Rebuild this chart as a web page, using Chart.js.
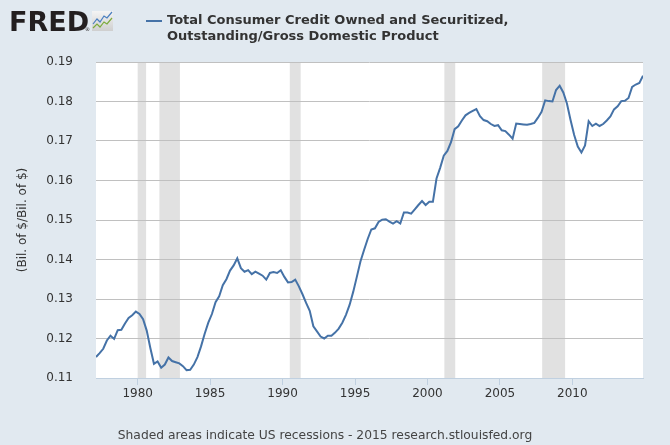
<!DOCTYPE html>
<html lang="en">
<head>
<meta charset="UTF-8" />
<title>Total Consumer Credit / GDP</title>
<style>
  html, body { margin: 0; padding: 0; background: #e1e9f0; }
  #chart { display: block; }
</style>
</head>
<body>
<canvas id="chart" width="670" height="445"></canvas>
<script src="https://cdn.jsdelivr.net/npm/chart.js"></script>
<script>
// Quarterly series, first quarter 1977 Q1
const firstYear = 1977;
const ratio = [
  0.1153, 0.1163, 0.1174, 0.1195, 0.1207, 0.1199, 0.1221, 0.1222, 0.1238, 0.1252,
  0.1259, 0.1268, 0.1262, 0.1249, 0.1220, 0.1176, 0.1136, 0.1142, 0.1126, 0.1134,
  0.1152, 0.1143, 0.1140, 0.1137, 0.1130, 0.1120, 0.1121, 0.1134, 0.1153, 0.1180,
  0.1212, 0.1240, 0.1262, 0.1292, 0.1307, 0.1335, 0.1350, 0.1372, 0.1385, 0.1403,
  0.1378, 0.1369, 0.1373, 0.1363, 0.1369, 0.1364, 0.1359, 0.1349, 0.1366, 0.1368,
  0.1366, 0.1373, 0.1356, 0.1342, 0.1343, 0.1349, 0.1332, 0.1312, 0.1290, 0.1270,
  0.1231, 0.1218, 0.1205, 0.1200, 0.1207, 0.1207, 0.1215, 0.1225, 0.1240, 0.1260,
  0.1285, 0.1318, 0.1356, 0.1395, 0.1424, 0.1452, 0.1476, 0.1479, 0.1495, 0.1501,
  0.1502, 0.1496, 0.1491, 0.1497, 0.1491, 0.1519, 0.1519, 0.1516, 0.1527, 0.1538,
  0.1548, 0.1538, 0.1546, 0.1546, 0.1605, 0.1632, 0.1663, 0.1675, 0.1697, 0.1730,
  0.1737, 0.1752, 0.1765, 0.1771, 0.1776, 0.1781, 0.1763, 0.1753, 0.1750, 0.1743,
  0.1738, 0.1740, 0.1727, 0.1725, 0.1716, 0.1706, 0.1744, 0.1743, 0.1742, 0.1741,
  0.1743, 0.1746, 0.1759, 0.1774, 0.1803, 0.1801, 0.1800, 0.1829, 0.1840, 0.1823,
  0.1795, 0.1753, 0.1715, 0.1686, 0.1671, 0.1689, 0.1750, 0.1738, 0.1744, 0.1738,
  0.1743, 0.1752, 0.1762, 0.1780, 0.1788, 0.1801, 0.1802, 0.1809, 0.1837, 0.1843,
  0.1847, 0.1865
];

// Quarter labels, e.g. "1977 Q1"
const quarters = ratio.map((_, i) => (firstYear + Math.floor(i / 4)) + ' Q' + (i % 4 + 1));

// NBER recessions (start month, end month)
const recessions = [
  ['1980-01', '1980-07'],
  ['1981-07', '1982-11'],
  ['1990-07', '1991-03'],
  ['2001-03', '2001-11'],
  ['2007-12', '2009-06']
];

const yTicks = [0.11, 0.12, 0.13, 0.14, 0.15, 0.16, 0.17, 0.18, 0.19];
const xTicks = [1980, 1985, 1990, 1995, 2000, 2005, 2010];

const legendLines = ['Total Consumer Credit Owned and Securitized,', 'Outstanding/Gross Domestic Product'];
const yTitle = '(Bil. of $/Bil. of $)';
const footer = 'Shaded areas indicate US recessions - 2015 research.stlouisfed.org';

// quarter label -> decimal year (middle of the quarter)
function quarterToYear(q) {
  const parts = q.split(' Q');
  return +parts[0] + (+parts[1] - 0.5) / 4;
}
function monthToYear(m, end) {
  const p = m.split('-');
  return +p[0] + (+p[1] - (end ? 0 : 1)) / 12;
}

const points = quarters.map((q, i) => ({ x: quarterToYear(q), y: ratio[i] }));

// background + recession bands
const bandsPlugin = {
  id: 'bands',
  beforeDraw(chart) {
    const c = chart.ctx, a = chart.chartArea, xs = chart.scales.x;
    c.save();
    c.fillStyle = '#e1e9f0';
    c.fillRect(0, 0, chart.width, chart.height);
    c.fillStyle = '#ffffff';
    c.fillRect(a.left, a.top, a.right - a.left, a.bottom - a.top);
    c.fillStyle = '#e1e1e1';
    recessions.forEach(r => {
      const x0 = Math.max(a.left, xs.getPixelForValue(monthToYear(r[0], false)));
      const x1 = Math.min(a.right, xs.getPixelForValue(monthToYear(r[1], true)));
      c.fillRect(x0, a.top, x1 - x0, a.bottom - a.top);
    });
    c.restore();
  }
};

// logo, legend, axis title, footer
const textPlugin = {
  id: 'texts',
  afterDraw(chart) {
    const c = chart.ctx, a = chart.chartArea;
    c.save();
    // FRED logo
    c.fillStyle = '#231f20';
    c.font = 'bold 27px "DejaVu Sans"';
    c.textBaseline = 'alphabetic';
    c.textAlign = 'left';
    c.fillText('FRED', 9, 31);
    c.font = '5px "DejaVu Sans"';
    c.fillText('®', 85, 31);
    const g = c.createLinearGradient(0, 11, 0, 31);
    g.addColorStop(0, '#f4f4f4');
    g.addColorStop(1, '#cfcfcf');
    c.fillStyle = g;
    c.fillRect(92, 11, 21, 20);
    c.lineWidth = 1.2;
    c.strokeStyle = '#4a7fc0';
    c.beginPath();
    c.moveTo(93, 24); c.lineTo(97, 19); c.lineTo(100, 22); c.lineTo(104, 16); c.lineTo(107, 18); c.lineTo(112, 12);
    c.stroke();
    c.strokeStyle = '#7cab3c';
    c.beginPath();
    c.moveTo(93, 28); c.lineTo(97, 24); c.lineTo(100, 27); c.lineTo(104, 22); c.lineTo(107, 24); c.lineTo(112, 18);
    c.stroke();

    // legend
    c.strokeStyle = '#4572a7';
    c.lineWidth = 2;
    c.beginPath();
    c.moveTo(146, 21); c.lineTo(162, 21);
    c.stroke();
    c.fillStyle = '#333333';
    c.font = 'bold 13px "DejaVu Sans"';
    c.textBaseline = 'middle';
    c.fillText(legendLines[0], 167, 21);
    c.fillText(legendLines[1], 167, 37);

    // y axis title
    c.font = '12px "DejaVu Sans"';
    c.textAlign = 'center';
    c.save();
    c.translate(23, (a.top + a.bottom) / 2);
    c.rotate(-Math.PI / 2);
    c.fillText(yTitle, 0, 0);
    c.restore();

    // footer
    c.fillStyle = '#444444';
    c.font = '12.3px "DejaVu Sans"';
    c.fillText(footer, 325, 436);
    c.restore();
  }
};

new Chart(document.getElementById('chart'), {
  type: 'line',
  data: {
    datasets: [{
      data: points,
      borderColor: '#4572a7',
      borderWidth: 2,
      pointRadius: 0,
      tension: 0,
      fill: false
    }]
  },
  options: {
    responsive: false,
    animation: false,
    devicePixelRatio: 1,
    layout: { padding: { top: 62, right: 27, left: 0, bottom: 0 } },
    plugins: { legend: { display: false }, tooltip: { enabled: false } },
    scales: {
      x: {
        type: 'linear',
        min: points[0].x,
        max: points[points.length - 1].x,
        afterFit: s => { s.height = 67; },
        afterBuildTicks: s => { s.ticks = xTicks.map(v => ({ value: v })); },
        grid: { drawOnChartArea: false, drawTicks: true, tickLength: 7, color: '#c0d0e0' },
        border: { color: '#c0d0e0', width: 1 },
        ticks: {
          autoSkip: false, maxRotation: 0, padding: 2, color: '#333333',
          font: { family: 'DejaVu Sans', size: 12 },
          callback: v => String(v)
        }
      },
      y: {
        min: yTicks[0],
        max: yTicks[yTicks.length - 1],
        afterFit: s => { s.width = 96; },
        afterBuildTicks: s => { s.ticks = yTicks.map(v => ({ value: v })); },
        grid: { color: '#c0c0c0', drawTicks: false, lineWidth: 1 },
        border: { display: false },
        ticks: {
          padding: 23, color: '#333333',
          font: { family: 'DejaVu Sans', size: 12 },
          callback: v => v.toFixed(2)
        }
      }
    }
  },
  plugins: [bandsPlugin, textPlugin]
});
</script>
</body>
</html>
